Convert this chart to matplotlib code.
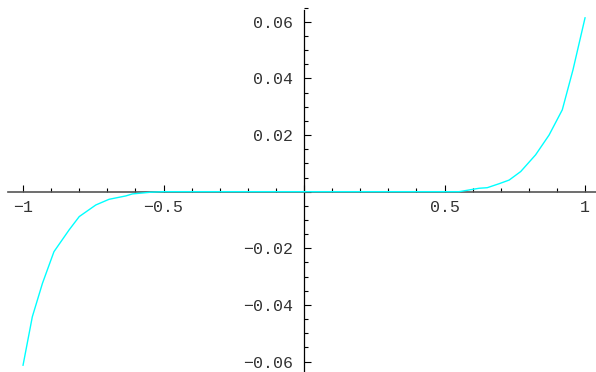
import matplotlib.pyplot as plt
from matplotlib.ticker import MultipleLocator, FuncFormatter

# values
x_left = [-1.0, -0.967, -0.931, -0.89, -0.836, -0.8, -0.741, -0.694, -0.634, -0.611, -0.546, -0.5]
y_left = [-0.0613, -0.0442, -0.0324, -0.0212, -0.0135, -0.0088, -0.0047, -0.0027, -0.0015, -0.0008, -0.0002, 0.0]
x_mid = [0.0]
y_mid = [0.0]
x_right = [0.5, 0.552, 0.623, 0.652, 0.694, 0.73, 0.771, 0.824, 0.872, 0.919, 0.957, 1.0]
y_right = [0.0, 0.0, 0.0012, 0.0014, 0.0028, 0.0041, 0.0071, 0.013, 0.020, 0.0289, 0.043, 0.0614]

xs = x_left + x_mid + x_right
ys = y_left + y_mid + y_right

plt.rcParams['font.family'] = ['Liberation Mono', 'DejaVu Sans Mono']

fig = plt.figure(figsize=(5.96, 3.72), dpi=100)
ax = fig.add_axes([0, 0, 1, 1])
ax.plot(xs, ys, color='#00ffff', lw=1.0, zorder=3)

ax.set_xlim(-1.082, 1.039)
ax.set_ylim(-0.0637, 0.0677)

ax.spines['left'].set_position(('data', 0))
ax.spines['bottom'].set_position(('data', 0))
ax.spines['right'].set_visible(False)
ax.spines['top'].set_visible(False)
ax.spines['bottom'].set_color('#555555')
ax.spines['bottom'].set_bounds(-1.055, 1.039)
ax.spines['left'].set_bounds(-0.0637, 0.0642)
ax.spines['left'].set_linewidth(0.9)
ax.spines['bottom'].set_linewidth(1.2)

ax.xaxis.set_major_locator(MultipleLocator(0.5))
ax.xaxis.set_minor_locator(MultipleLocator(0.1))
ax.yaxis.set_major_locator(MultipleLocator(0.02))
ax.yaxis.set_minor_locator(MultipleLocator(0.005))

def xfmt(v, pos):
    if abs(v) < 1e-9:
        return ''
    return ('%g' % v).replace('-', '\u2212')

def yfmt(v, pos):
    if abs(v) < 1e-9:
        return ''
    return ('%.2f' % v).replace('-', '\u2212')

ax.xaxis.set_major_formatter(FuncFormatter(xfmt))
ax.yaxis.set_major_formatter(FuncFormatter(yfmt))

ax.tick_params(axis='x', which='major', direction='in', length=5, width=0.8, labelsize=12, pad=6)
ax.tick_params(axis='x', which='minor', direction='in', length=3, width=0.8)
ax.tick_params(axis='y', which='major', direction='in', length=5, width=0.8, labelsize=12, pad=8)
ax.tick_params(axis='y', which='minor', direction='in', length=3, width=0.8)
for lab in ax.get_xticklabels() + ax.get_yticklabels():
    lab.set_color('#333333')

fig.savefig('out.png', dpi=100)
